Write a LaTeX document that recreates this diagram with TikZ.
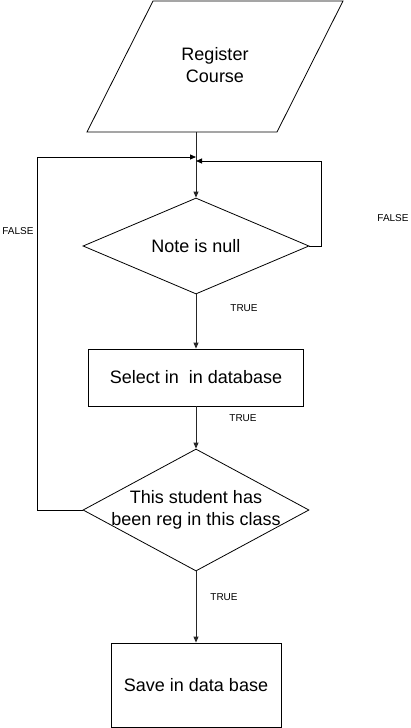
\documentclass[tikz,border=0pt]{standalone}
\usepackage{fontspec}
\setmainfont{Liberation Sans}
\usetikzlibrary{shapes.geometric,arrows.meta}
\tikzset{
  box/.style={draw=black, line width=0.8pt, rectangle, inner sep=0pt},
  decision/.style={draw=black, line width=0.8pt, diamond, inner sep=0pt},
  bigtext/.style={font=\fontsize{18}{22}\selectfont, align=center, inner sep=0pt},
  smalltext/.style={font=\fontsize{10}{12}\selectfont, inner sep=0pt},
  flow/.style={draw=black!85, line width=0.9pt, -{Triangle[length=6pt,width=5pt]}},
  loopline/.style={draw=black, line width=0.8pt, -{Triangle[length=6pt,width=5pt]}}
}
\begin{document}
\begin{tikzpicture}[x=1pt,y=-1pt]
\useasboundingbox (0,0) rectangle (411,728);
% parallelogram input
\draw[line width=0.8pt] (87,132) -- (277,132) -- (343,1) -- (153,1) -- cycle;
\node[bigtext] (reg) at (215,65) {Register\\Course};
\coordinate (regb) at (196,132);
% decision 1
\node[decision, minimum width=226pt, minimum height=96pt] (d1) at (196,246) {};
\node[bigtext] (d1t) at (d1.center) {Note is null};
% select box
\node[box, minimum width=215pt, minimum height=57pt] (sel) at (196,377.5) {};
\node[bigtext] (selt) at (sel.center) {Select in\ \ in database};
% decision 2
\node[decision, minimum width=226pt, minimum height=122pt] (d2) at (196,510) {};
\node[bigtext] (d2t) at (d2.center) {This student has\\been reg in this class};
% save box
\node[box, minimum width=170pt, minimum height=84pt] (save) at (196,685) {};
\node[bigtext] (savet) at (save.center) {Save in data base};
% merge points
\coordinate (mL) at (196,157);
\coordinate (mR) at (196,161);
\coordinate (lx) at (37,157);
\coordinate (rx) at (321,161);
% main flow
\draw[flow] (regb) -- (d1.north);
\draw[flow] (d1.south) -- (sel.north);
\draw[flow] (sel.south) -- (d2.north);
\draw[flow] (d2.south) -- (save.north);
% loops
\draw[loopline] (d1.east) -| (rx) -- (mR);
\draw[loopline] (d2.west) -| (lx) -- (mL);
% labels
\node[smalltext] (f1) at (18,231) {FALSE};
\node[smalltext] (f2) at (393,218) {FALSE};
\node[smalltext] (t1) at (244,308) {TRUE};
\node[smalltext] (t2) at (243,418) {TRUE};
\node[smalltext] (t3) at (224,597) {TRUE};
\end{tikzpicture}
\end{document}
